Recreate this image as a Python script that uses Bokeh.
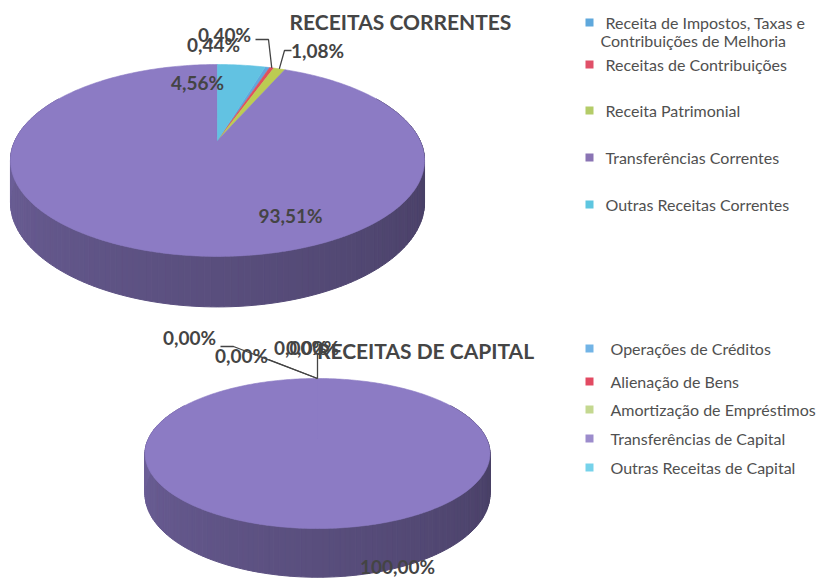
import numpy as np
from bokeh.plotting import figure
from bokeh.models import Range1d
from bokeh.embed import file_html
from bokeh.resources import INLINE
from bokeh.core.properties import value

# ---------------- data ----------------
correntes_title = "RECEITAS CORRENTES"
correntes_cats = ["Receita de Impostos, Taxas e\nContribuições de Melhoria",
                  "Receitas de Contribuições",
                  "Receita Patrimonial",
                  "Transferências Correntes",
                  "Outras Receitas Correntes"]
correntes_vals = [0.44, 0.40, 1.08, 93.51, 4.56]

capital_title = "RECEITAS DE CAPITAL"
capital_cats = ["Operações de Créditos",
                "Alienação de Bens",
                "Amortização de Empréstimos",
                "Transferências de Capital",
                "Outras Receitas de Capital"]
capital_vals = [0.00, 0.00, 0.00, 100.00, 0.00]

# ---------------- styles / layout ----------------
PIE_COLORS = ["#62a6dc", "#e0505e", "#bccc52", "#8c7bc4", "#62c2e2"]
LEG_COLORS_TOP = ["#5fa8dc", "#e05068", "#b4cc68", "#8a74b4", "#5ec6e0"]
LEG_COLORS_BOT = ["#72b4e6", "#e24a62", "#c4d890", "#9c8ccc", "#76d2ea"]
TEXT_DARK = "#444444"
LEGEND_TEXT = "#505050"

W, H = 817, 579
X0, Y0 = 0, 0

geo_top = dict(ax=217, ay=140, rx=202.5, ry=91.8, k=0.208, d0=40, start=16.4)
geo_bot = dict(ax=317, ay=438, rx=169, ry=72, k=0.20, d0=39, start=0.0)

# label anchor positions (layout only)
top_label_pos = [(213, 44), (224, 34), (317, 50), (290, 215), (197, 82)]
top_leaders = {1: [(255, 39), (268, 39)], 2: [(291, 50), (284, 50)]}
bot_label_pos = [(189, 337), (241, 355), (300, 347), (397, 566), (312, 347)]
bot_leaders = {0: [(220, 346), (233, 346)], 1: [(268, 359)], 2: [(317, 353)]}

top_leg_x, top_leg_text_x = 589, 605
top_leg_rows = [22, 64, 110, 157, 204]
bot_leg_x, bot_leg_text_x = 589, 610
bot_leg_rows = [348, 381, 409, 438, 467]

LEG_FONT = "16px"
LBL_FONT = "19px"


def fmt(v):
    return f"{v:.2f}".replace(".", ",") + "%"


def project(theta_deg, g, depth=0.0):
    t = np.radians(theta_deg)
    u = np.sin(t)
    v = -np.cos(t)
    w = 1.0 - g["k"] * v
    x = g["ax"] + g["rx"] * u / w
    y = g["ay"] + g["ry"] * v / w + depth / w
    return x, y


def shade(hexcol, f):
    h = hexcol.lstrip("#")
    r, gg, b = (int(h[i:i + 2], 16) for i in (0, 2, 4))
    return "#%02x%02x%02x" % (int(r * f), int(gg * f), int(b * f))


def draw_pie(p, vals, g):
    vals = np.asarray(vals, dtype=float)
    fr = vals / vals.sum()
    bounds = g["start"] + 360.0 * np.concatenate([[0], np.cumsum(fr)])

    def slice_of(theta):
        rel = (theta - g["start"]) % 360.0
        rb = bounds - g["start"]
        for i in range(len(vals)):
            if rb[i] <= rel < rb[i + 1]:
                return i
        return len(vals) - 1

    # side wall
    th = np.arange(60, 300.01, 1.5)
    sx, sy, sc = [], [], []
    for a, b in zip(th[:-1], th[1:]):
        m = 0.5 * (a + b)
        i = slice_of(m)
        f = float(np.clip(0.5 + 0.28 * (m - 90) / 180.0, 0.48, 0.8))
        x1, y1 = project(a, g)
        x2, y2 = project(b, g)
        x3, y3 = project(b, g, g["d0"])
        x4, y4 = project(a, g, g["d0"])
        sx.append([x1, x2, x3, x4])
        sy.append([y1, y2, y3, y4])
        sc.append(shade(PIE_COLORS[i], f))
    p.patches(sx, sy, fill_color=sc, line_color=sc, line_width=1)

    # top face
    tx, ty, tc = [], [], []
    for i in range(len(vals)):
        if fr[i] <= 0:
            continue
        a0, a1 = bounds[i], bounds[i + 1]
        n = max(3, int(abs(a1 - a0)) + 2)
        arc = np.linspace(a0, a1, n)
        xs, ys = project(arc, g)
        tx.append([g["ax"]] + list(xs))
        ty.append([g["ay"]] + list(ys))
        tc.append(PIE_COLORS[i])
    p.patches(tx, ty, fill_color=tc, line_color=tc, line_width=0.6)
    return bounds


def mid_edge(bounds, i, g):
    m = 0.5 * (bounds[i] + bounds[i + 1])
    return project(m, g)


p = figure(width=W, height=H, output_backend="svg", toolbar_location=None,
           x_range=Range1d(X0, X0 + W), y_range=Range1d(Y0 + H, Y0),
           min_border=0, background_fill_color="white", border_fill_color="white")
p.axis.visible = False
p.grid.visible = False
p.outline_line_color = None

# ---- top chart ----
b_top = draw_pie(p, correntes_vals, geo_top)
for i, pts in top_leaders.items():
    ex, ey = mid_edge(b_top, i, geo_top)
    xs = [q[0] for q in pts] + [float(ex)]
    ys = [q[1] for q in pts] + [float(ey)]
    p.line(xs, ys, line_color=TEXT_DARK, line_width=1.3)
for i, v in enumerate(correntes_vals):
    x, y = top_label_pos[i]
    p.text([x], [y], text=[fmt(v)], text_font=value("Lato"), text_font_style="bold",
           text_font_size=LBL_FONT, text_color=TEXT_DARK,
           text_align="center", text_baseline="middle")
p.text([400], [21], text=[correntes_title], text_font=value("Lato"), text_font_style="bold",
       text_font_size="21px", text_color="#454545", text_align="center", text_baseline="middle")

# top legend
for i, cat in enumerate(correntes_cats):
    y = top_leg_rows[i]
    p.rect([top_leg_x], [y], width=8, height=8, fill_color=LEG_COLORS_TOP[i], line_color=None)
    lines = cat.split("\n")
    p.text([top_leg_text_x], [y], text=[lines[0]], text_font=value("Lato"),
           text_font_size=LEG_FONT, text_color=LEGEND_TEXT, text_align="left", text_baseline="middle")
    for j, extra in enumerate(lines[1:]):
        p.text([top_leg_text_x - 5], [y + 18 * (j + 1)], text=[extra], text_font=value("Lato"),
               text_font_size=LEG_FONT, text_color=LEGEND_TEXT, text_align="left", text_baseline="middle")

# ---- bottom chart ----
b_bot = draw_pie(p, capital_vals, geo_bot)
for i, pts in bot_leaders.items():
    ex, ey = mid_edge(b_bot, i, geo_bot)
    xs = [q[0] for q in pts] + [float(ex)]
    ys = [q[1] for q in pts] + [float(ey)]
    p.line(xs, ys, line_color=TEXT_DARK, line_width=1.3)
p.text([425], [350], text=[capital_title], text_font=value("Lato"), text_font_style="bold",
       text_font_size="21px", text_color="#454545", text_align="center", text_baseline="middle")
for i, v in enumerate(capital_vals):
    x, y = bot_label_pos[i]
    p.text([x], [y], text=[fmt(v)], text_font=value("Lato"), text_font_style="bold",
           text_font_size=LBL_FONT, text_color=TEXT_DARK,
           text_align="center", text_baseline="middle")

for i, cat in enumerate(capital_cats):
    y = bot_leg_rows[i]
    p.rect([bot_leg_x], [y], width=8, height=8, fill_color=LEG_COLORS_BOT[i], line_color=None)
    p.text([bot_leg_text_x], [y], text=[cat], text_font=value("Lato"),
           text_font_size=LEG_FONT, text_color=LEGEND_TEXT, text_align="left", text_baseline="middle")

open("out.html", "w").write(file_html(p, INLINE))
